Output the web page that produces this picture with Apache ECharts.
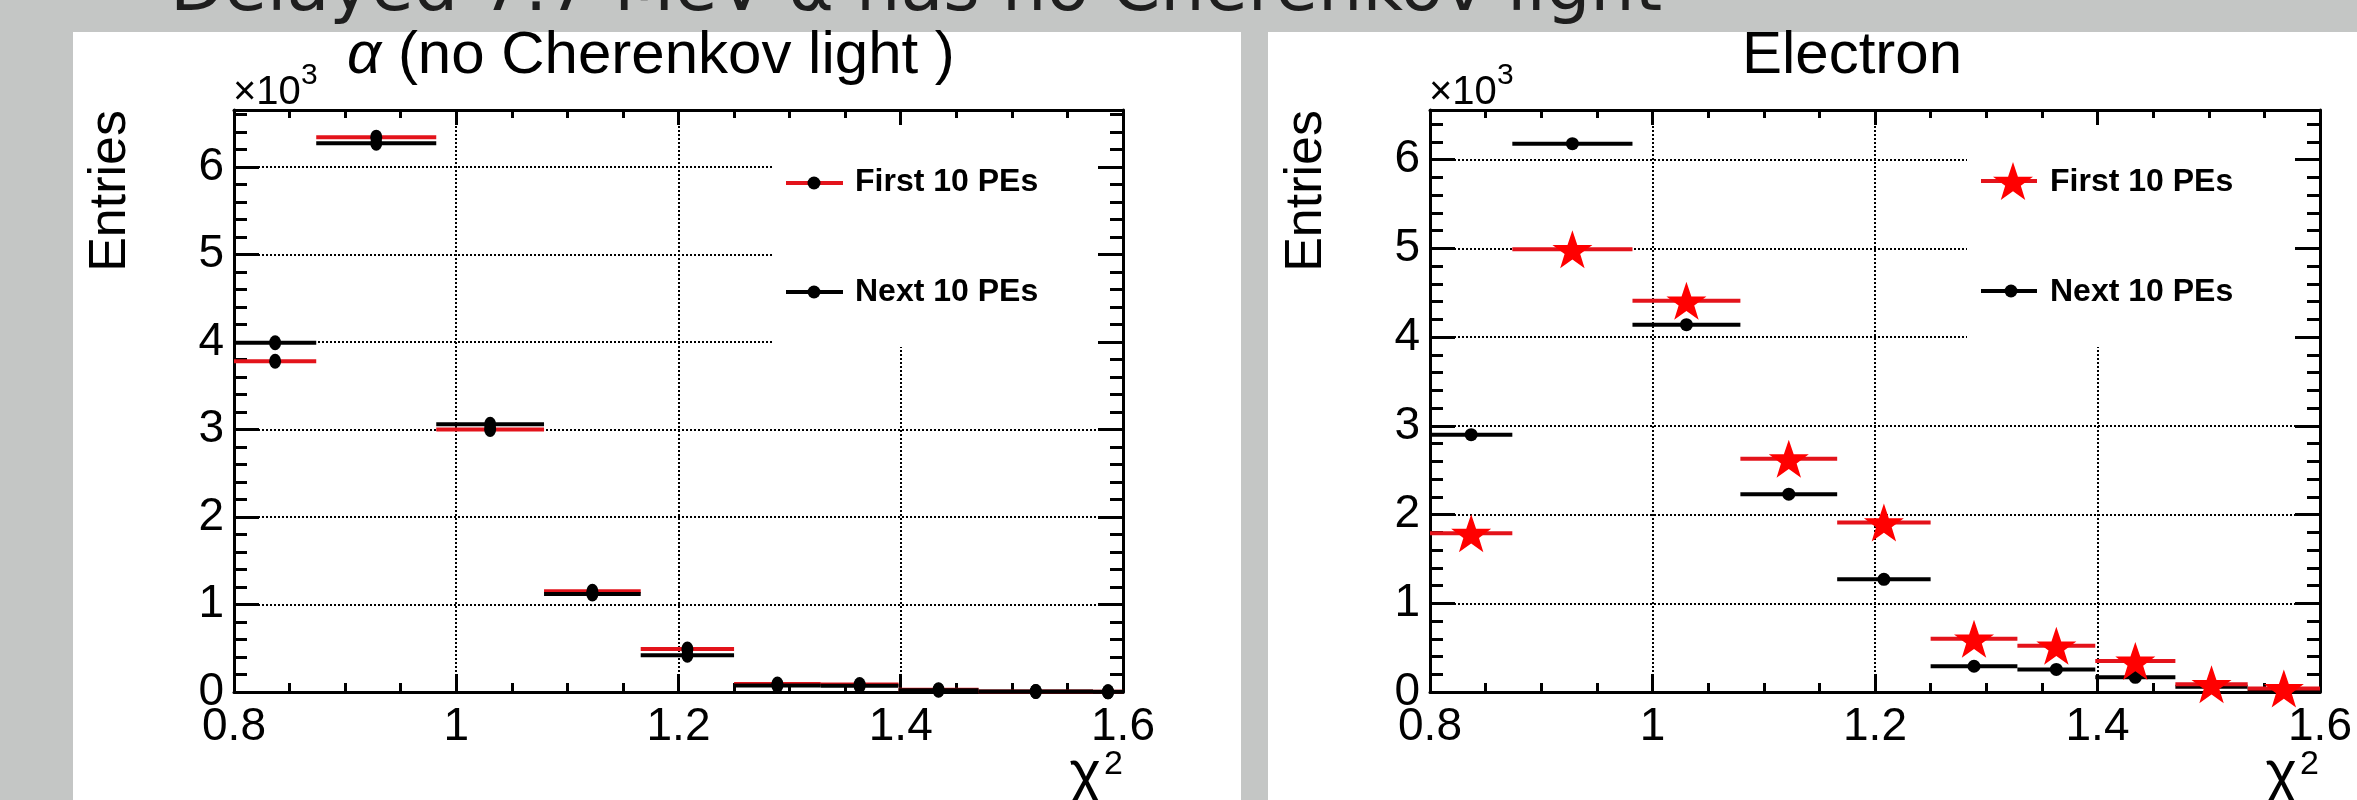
<!DOCTYPE html>
<html>
<head>
<meta charset="utf-8">
<title>chi2 of first / next 10 PEs</title>
<script src="https://cdn.jsdelivr.net/npm/echarts@6.0.0/dist/echarts.min.js"></script>
<style>
  html, body { margin: 0; padding: 0; background: #fff; }
  #chart { width: 2357px; height: 800px; }
</style>
</head>
<body>
<div id="chart"></div>
<script>
// chi2 bins of each panel
var alphaLo = [0.800, 0.874, 0.982, 1.079, 1.166, 1.250, 1.328, 1.398, 1.470, 1.573];
var alphaHi = [0.874, 0.982, 1.079, 1.166, 1.250, 1.328, 1.398, 1.470, 1.573, 1.600];
var elecLo  = [0.800, 0.874, 0.982, 1.079, 1.166, 1.250, 1.328, 1.398, 1.470, 1.535];
var elecHi  = [0.874, 0.982, 1.079, 1.166, 1.250, 1.328, 1.398, 1.470, 1.535, 1.600];

// entries, x10^3
var alphaFirst = [3.78, 6.34, 3.00, 1.15, 0.49, 0.090, 0.085, 0.025, 0.006, 0.003];
var alphaNext  = [3.99, 6.27, 3.06, 1.12, 0.42, 0.075, 0.070, 0.020, 0.005, 0.002];
var elecFirst  = [1.79, 4.99, 4.41, 2.63, 1.91, 0.60, 0.52, 0.35, 0.087, 0.040];
var elecNext   = [2.90, 6.18, 4.14, 2.23, 1.27, 0.29, 0.255, 0.165, 0.060, 0.020];

var panelTitles = ['α (no Cherenkov light )', 'Electron'];
var legendNames = ['First 10 PEs', 'Next 10 PEs'];
var yMax = [6.65, 6.56];

var FONT = '"Liberation Sans", Arial, Helvetica, sans-serif';
var RED = '#e3131b';
// 5-point star, 100x91 box
var STAR_PTS = [[50,0],[61.8,35.1],[98.1,35.1],[68.8,56.8],[79.4,91],[50,70],[20.6,91],[31.2,56.8],[1.9,35.1],[38.2,35.1]];
var STAR = 'path://M' + STAR_PTS.map(function(p) { return p[0] + ',' + p[1]; }).join(' L') + ' Z';

var myChart;
document.addEventListener("DOMContentLoaded", function() {
    initChart();
});

// y of a 'middle' text so that its baseline lands on b
function mid(b, size) {
    return b - 0.346 * size;
}

function txt(x, y, text, size, extra) {
    extra = extra || {};
    var st = {
        text: text,
        font: (extra.weight ? extra.weight + ' ' : '') + size + 'px ' + (extra.family || FONT),
        fill: extra.fill || '#000',
        align: extra.align || 'left',
        verticalAlign: 'middle'
    };
    if (extra.rich) st.rich = extra.rich;
    return {
        type: 'text', x: x, y: y, z: 10,
        rotation: extra.rotation || 0,
        style: st
    };
}

// star polygon for the legend, fitted in a w x h box centred at cx, cy
function starShape(cx, cy, w, h) {
    return STAR_PTS.map(function(p) {
        return [cx - w / 2 + (p[0] - 1.9) / 96.2 * w, cy - h / 2 + p[1] / 91 * h];
    });
}

function errSeries(g, lo, hi, vals, color) {
    return {
        type: 'custom',
        xAxisIndex: 2 * g,
        yAxisIndex: 2 * g,
        z: 3,
        silent: true,
        data: vals.map(function(v, i) { return [lo[i], hi[i], v]; }),
        renderItem: function(params, api) {
            var a = api.coord([api.value(0), api.value(2)]);
            var b = api.coord([api.value(1), api.value(2)]);
            return {
                type: 'line',
                shape: { x1: a[0], y1: a[1], x2: b[0], y2: b[1] },
                style: { stroke: color, lineWidth: 4 }
            };
        }
    };
}

function markSeries(g, lo, hi, vals, symbol, size, color) {
    return {
        type: 'scatter',
        xAxisIndex: 2 * g,
        yAxisIndex: 2 * g,
        z: 4,
        silent: true,
        symbol: symbol,
        symbolSize: size,
        itemStyle: { color: color, opacity: 1 },
        data: vals.map(function(v, i) { return [(lo[i] + hi[i]) / 2, v]; })
    };
}

function initChart() {
    myChart = echarts.init(document.getElementById('chart'), null, { renderer: 'canvas' });

    var grids = [
        { left: 234, top: 110, width: 889, height: 582, outerBoundsMode: 'none' },
        { left: 1430, top: 110, width: 890, height: 582, outerBoundsMode: 'none' }
    ];

    var xAxis = [], yAxis = [];
    [0, 1].forEach(function(g) {
        xAxis.push({
            type: 'value', gridIndex: g, position: 'bottom',
            min: 0.8, max: 1.6, interval: 0.2,
            axisLine: { show: true, onZero: false, lineStyle: { color: '#000', width: 3 } },
            axisTick: { show: true, inside: true, length: 18, lineStyle: { color: '#000', width: 3 } },
            minorTick: { show: true, splitNumber: 4, length: 9, lineStyle: { color: '#000', width: 3 } },
            axisLabel: { fontSize: 46, color: '#000', fontFamily: FONT, margin: 12 },
            splitLine: { show: true, lineStyle: { color: '#000', width: 2, type: [2, 2] } }
        });
        xAxis.push({
            type: 'value', gridIndex: g, position: 'top',
            min: 0.8, max: 1.6, interval: 0.2,
            axisLine: { show: true, onZero: false, lineStyle: { color: '#000', width: 3 } },
            axisTick: { show: true, inside: true, length: 15, lineStyle: { color: '#000', width: 3 } },
            minorTick: { show: true, splitNumber: 4, length: 8, lineStyle: { color: '#000', width: 3 } },
            axisLabel: { show: false },
            splitLine: { show: false }
        });
        yAxis.push({
            type: 'value', gridIndex: g, position: 'left',
            min: 0, max: yMax[g], interval: 1,
            axisLine: { show: true, onZero: false, lineStyle: { color: '#000', width: 3 } },
            axisTick: { show: true, inside: true, length: 25, lineStyle: { color: '#000', width: 3 } },
            minorTick: { show: true, splitNumber: 5, length: 13, lineStyle: { color: '#000', width: 3 } },
            axisLabel: { fontSize: 46, color: '#000', fontFamily: FONT, margin: 10, showMaxLabel: false },
            splitLine: { show: true, lineStyle: { color: '#000', width: 2, type: [2, 2] } }
        });
        yAxis.push({
            type: 'value', gridIndex: g, position: 'right',
            min: 0, max: yMax[g], interval: 1,
            axisLine: { show: true, onZero: false, lineStyle: { color: '#000', width: 3 } },
            axisTick: { show: true, inside: true, length: 25, lineStyle: { color: '#000', width: 3 } },
            minorTick: { show: true, splitNumber: 5, length: 13, lineStyle: { color: '#000', width: 3 } },
            axisLabel: { show: false },
            splitLine: { show: false }
        });
    });

    var graphic = [
        // slide background around the two canvases
        { type: 'rect', z: 0, shape: { x: 0, y: 0, width: 2357, height: 32 }, style: { fill: '#c4c6c5' } },
        { type: 'rect', z: 0, shape: { x: 0, y: 0, width: 73, height: 800 }, style: { fill: '#c4c6c5' } },
        { type: 'rect', z: 0, shape: { x: 1241, y: 0, width: 27, height: 800 }, style: { fill: '#c4c6c5' } },
        txt(40, mid(16, 70), '•', 70, { family: '"DejaVu Sans", sans-serif', fill: '#2f4f80' }),
        txt(170, mid(16, 70), 'Delayed 7.7 MeV α has no Cherenkov light', 70, { family: '"DejaVu Sans", sans-serif', fill: '#1e1e1e' }),

        // panel titles
        txt(347, mid(77, 60), '{i|α} (no Cherenkov light )', 60, { rich: { i: { fontStyle: 'italic', fontSize: 60, fontFamily: FONT } } }),
        txt(1852, mid(77, 60), panelTitles[1], 60, { align: 'center' }),

        // x10^3 exponents
        txt(233, mid(107, 40), '×10', 40),
        txt(301, mid(86, 30), '3', 30),
        txt(1429, mid(107, 40), '×10', 40),
        txt(1497, mid(86, 30), '3', 30),

        // axis titles
        txt(111, 110, 'Entries', 52, { align: 'right', rotation: Math.PI / 2 }),
        txt(1307, 110, 'Entries', 52, { align: 'right', rotation: Math.PI / 2 }),
        txt(1101, mid(796, 60), 'χ', 60, { align: 'right' }),
        txt(1123, mid(776, 34), '2', 34, { align: 'right' }),
        txt(2297, mid(796, 60), 'χ', 60, { align: 'right' }),
        txt(2319, mid(776, 34), '2', 34, { align: 'right' }),

        // left legend
        { type: 'rect', z: 1, shape: { x: 773, y: 126, width: 324, height: 221 }, style: { fill: '#fff' } },
        { type: 'line', z: 2, shape: { x1: 786, y1: 183, x2: 843, y2: 183 }, style: { stroke: RED, lineWidth: 4 } },
        { type: 'circle', z: 3, shape: { cx: 814, cy: 183, r: 6.5 }, style: { fill: '#000' } },
        txt(855, 182, legendNames[0], 32, { weight: 'bold' }),
        { type: 'line', z: 2, shape: { x1: 786, y1: 292, x2: 843, y2: 292 }, style: { stroke: '#000', lineWidth: 4 } },
        { type: 'circle', z: 3, shape: { cx: 814, cy: 292, r: 6.5 }, style: { fill: '#000' } },
        txt(855, 292, legendNames[1], 32, { weight: 'bold' }),

        // right legend
        { type: 'rect', z: 1, shape: { x: 1967, y: 126, width: 328, height: 221 }, style: { fill: '#fff' } },
        { type: 'line', z: 2, shape: { x1: 1981, y1: 181, x2: 2037, y2: 181 }, style: { stroke: RED, lineWidth: 4 } },
        { type: 'polygon', z: 3, shape: { points: starShape(2013, 181, 40, 38) }, style: { fill: '#ff0000' } },
        txt(2050, 182, legendNames[0], 32, { weight: 'bold' }),
        { type: 'line', z: 2, shape: { x1: 1981, y1: 291, x2: 2037, y2: 291 }, style: { stroke: '#000', lineWidth: 4 } },
        { type: 'circle', z: 3, shape: { cx: 2011, cy: 291, r: 6.5 }, style: { fill: '#000' } },
        txt(2050, 292, legendNames[1], 32, { weight: 'bold' })
    ];

    var option = {
        animation: false,
        backgroundColor: '#fff',
        grid: grids,
        xAxis: xAxis,
        yAxis: yAxis,
        graphic: graphic,
        series: [
            errSeries(0, alphaLo, alphaHi, alphaFirst, RED),
            errSeries(0, alphaLo, alphaHi, alphaNext, '#000'),
            markSeries(0, alphaLo, alphaHi, alphaFirst, 'circle', [12, 15], '#000'),
            markSeries(0, alphaLo, alphaHi, alphaNext, 'circle', [12, 15], '#000'),
            errSeries(1, elecLo, elecHi, elecNext, '#000'),
            errSeries(1, elecLo, elecHi, elecFirst, RED),
            markSeries(1, elecLo, elecHi, elecNext, 'circle', [13, 13], '#000'),
            markSeries(1, elecLo, elecHi, elecFirst, STAR, [40, 38], '#ff0000')
        ]
    };

    myChart.setOption(option);
}
</script>
</body>
</html>
